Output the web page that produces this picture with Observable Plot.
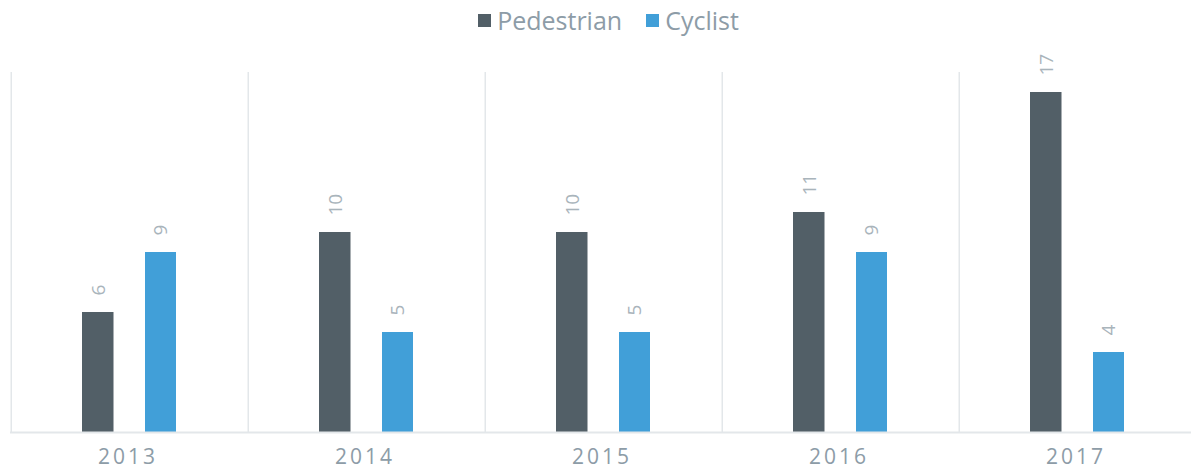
<!DOCTYPE html>
<html>
<head>
<meta charset="utf-8">
<script src="https://cdn.jsdelivr.net/npm/d3@7"></script>
<script src="https://cdn.jsdelivr.net/npm/@observablehq/plot@0.6"></script>
<style>
  html, body { margin: 0; padding: 0; background: #fff; }
  body { width: 1191px; height: 470px; overflow: hidden; font-family: "Open Sans", sans-serif; }
  #legend { height: 40px; display: flex; justify-content: center; align-items: center; padding-left: 26px; box-sizing: border-box; }
  .item { display: flex; align-items: center; font-size: 25px; color: #8d9ca7; margin: 0 12px; }
  .sw { width: 13px; height: 13px; margin-right: 6px; }
</style>
</head>
<body>
<div id="legend"></div>
<div id="chart"></div>
<script>
const years = ["2013", "2014", "2015", "2016", "2017"];
const seriesNames = ["Pedestrian", "Cyclist"];
const seriesColors = ["#525f67", "#419fd8"];
const pedestrian = [6, 10, 10, 11, 17];
const cyclist = [9, 5, 5, 9, 4];

const legend = document.getElementById("legend");
seriesNames.forEach((n, i) => {
  const it = document.createElement("div");
  it.className = "item";
  it.innerHTML = `<span class="sw" style="background:${seriesColors[i]}"></span><span>${n}</span>`;
  legend.appendChild(it);
});

const ped = years.map((y, i) => ({year: y, value: pedestrian[i]}));
const cyc = years.map((y, i) => ({year: y, value: cyclist[i]}));

const labelStyle = {fill: "#a9b4bb", fontSize: 19, rotate: -90, textAnchor: "start", dy: -17};

const chart = Plot.plot({
  width: 1191,
  height: 430,
  marginTop: 32,
  marginBottom: 38,
  marginLeft: 10,
  marginRight: 0,
  x: {domain: years, range: [10, 1197.5], padding: 0, label: null},
  y: {domain: [0, 18], axis: null},
  style: {fontFamily: "Open Sans, sans-serif", background: "#fff"},
  marks: [
    Plot.ruleX(years, {x: d => d, dx: -118.75, y1: 0, y2: 18, stroke: "#e3e7ea", strokeWidth: 1.5}),
    Plot.barY(ped, {x: "year", y: "value", fill: seriesColors[0], insetLeft: 71, insetRight: 134.5}),
    Plot.barY(cyc, {x: "year", y: "value", fill: seriesColors[1], insetLeft: 134, insetRight: 72}),
    Plot.ruleY([0], {stroke: "#e3e7ea", strokeWidth: 2}),
    Plot.text(ped, {x: "year", y: "value", text: d => String(d.value), ...labelStyle, dx: -31.5}),
    Plot.text(cyc, {x: "year", y: "value", text: d => String(d.value), ...labelStyle, dx: 31}),
    Plot.axisX({tickSize: 0, tickPadding: 17, fontSize: 21, fill: "#8d9ca7", label: null, dx: -2})
  ]
});
chart.querySelectorAll("[aria-label='x-axis tick label'] text").forEach(t => t.setAttribute("letter-spacing", "3"));
document.getElementById("chart").appendChild(chart);
</script>
</body>
</html>
